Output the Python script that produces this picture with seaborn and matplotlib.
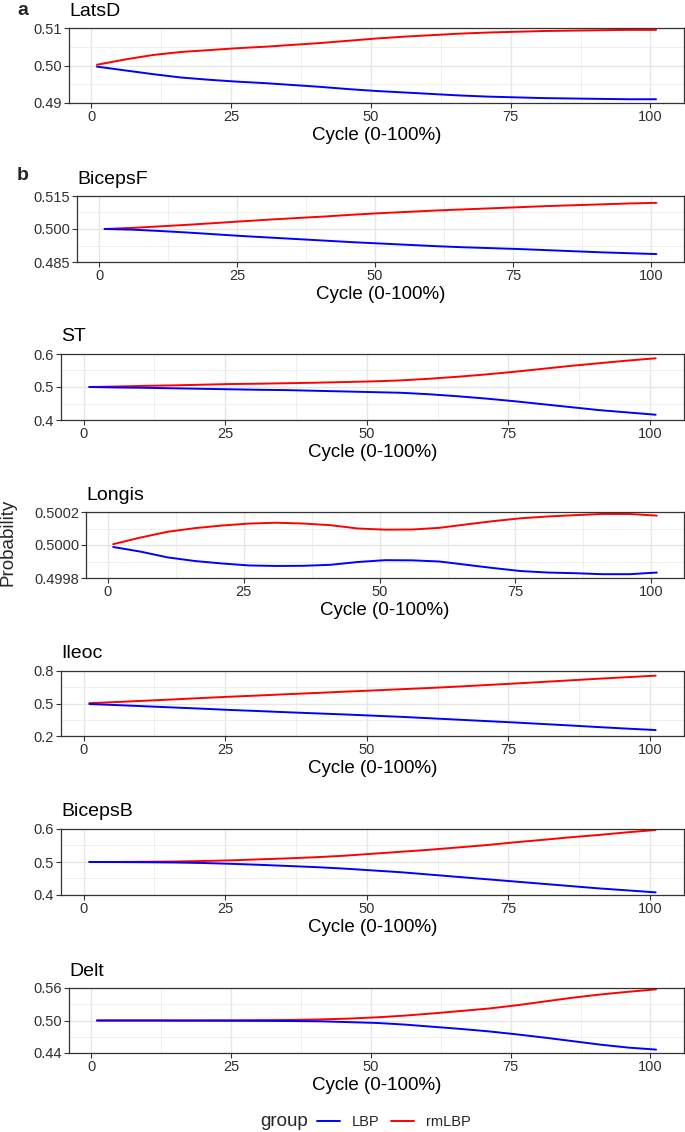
import matplotlib
matplotlib.use("Agg")
import matplotlib.pyplot as plt
import seaborn as sns
import pandas as pd
from matplotlib.lines import Line2D

# ---------------- data ----------------
cycle = [1, 6, 11, 16, 21, 26, 31, 36, 41, 46, 51, 56, 61, 66, 71, 76, 81, 86, 91, 96, 101]
groups = ["LBP", "rmLBP"]
x_ticks = [0, 25, 50, 75, 100]
x_tick_labels = ["0", "25", "50", "75", "100"]

latsd_lbp = [0.4997, 0.4987, 0.4977, 0.4968, 0.4962, 0.4957, 0.4953, 0.4948, 0.4943, 0.4937, 0.4932,
             0.4928, 0.4924, 0.4920, 0.4917, 0.4915, 0.4913, 0.4912, 0.4911, 0.4910, 0.4910]
latsd_rmlbp = [0.5002, 0.5016, 0.5028, 0.5036, 0.5041, 0.5046, 0.5050, 0.5055, 0.5060, 0.5066, 0.5072,
               0.5077, 0.5081, 0.5085, 0.5088, 0.5090, 0.5092, 0.5093, 0.5094, 0.5095, 0.5095]
latsd_yticks = [0.49, 0.50, 0.51]
latsd_ylabels = ["0.49", "0.50", "0.51"]

bicepsf_lbp = [0.5000, 0.4997, 0.4991, 0.4984, 0.4976, 0.4968, 0.4961, 0.4954, 0.4947, 0.4940, 0.4934,
               0.4928, 0.4922, 0.4917, 0.4913, 0.4909, 0.4904, 0.4899, 0.4894, 0.4890, 0.4886]
bicepsf_rmlbp = [0.5000, 0.5005, 0.5012, 0.5019, 0.5027, 0.5035, 0.5043, 0.5050, 0.5057, 0.5065, 0.5072,
                 0.5078, 0.5084, 0.5089, 0.5094, 0.5099, 0.5104, 0.5108, 0.5112, 0.5116, 0.5119]
bicepsf_yticks = [0.485, 0.500, 0.515]
bicepsf_ylabels = ["0.485", "0.500", "0.515"]

st_lbp = [0.500, 0.4985, 0.4975, 0.4960, 0.4945, 0.493, 0.4915, 0.4905, 0.4885, 0.4865, 0.4845,
          0.4825, 0.478, 0.472, 0.465, 0.457, 0.448, 0.439, 0.430, 0.423, 0.416]
st_rmlbp = [0.500, 0.5015, 0.5035, 0.505, 0.507, 0.509, 0.510, 0.5115, 0.513, 0.515, 0.517,
            0.520, 0.525, 0.531, 0.538, 0.546, 0.555, 0.564, 0.572, 0.580, 0.587]
st_yticks = [0.4, 0.5, 0.6]
st_ylabels = ["0.4", "0.5", "0.6"]

longis_lbp = [0.499988, 0.499960, 0.499925, 0.499903, 0.499888, 0.499876, 0.499873, 0.499874, 0.499880,
              0.499897, 0.499908, 0.499907, 0.499900, 0.499880, 0.499860, 0.499842, 0.499833, 0.499829,
              0.499823, 0.499823, 0.499833]
longis_rmlbp = [0.500005, 0.500045, 0.500080, 0.500102, 0.500118, 0.500130, 0.500135, 0.500130, 0.500120,
                0.500100, 0.500093, 0.500094, 0.500104, 0.500125, 0.500145, 0.500162, 0.500173, 0.500181,
                0.500188, 0.500188, 0.500178]
longis_yticks = [0.4998, 0.5000, 0.5002]
longis_ylabels = ["0.4998", "0.5000", "0.5002"]

ileoc_lbp = [0.495, 0.485, 0.474, 0.463, 0.452, 0.440, 0.430, 0.419, 0.409, 0.399, 0.388,
             0.377, 0.364, 0.351, 0.338, 0.325, 0.311, 0.297, 0.282, 0.268, 0.255]
ileoc_rmlbp = [0.503, 0.514, 0.526, 0.538, 0.551, 0.563, 0.574, 0.586, 0.597, 0.609, 0.620,
               0.632, 0.643, 0.656, 0.670, 0.684, 0.699, 0.714, 0.729, 0.743, 0.757]
ileoc_yticks = [0.2, 0.5, 0.8]
ileoc_ylabels = ["0.2", "0.5", "0.8"]

bicepsb_lbp = [0.500, 0.4998, 0.4993, 0.4985, 0.497, 0.4945, 0.4915, 0.488, 0.4845, 0.480, 0.4745,
               0.469, 0.462, 0.455, 0.448, 0.441, 0.434, 0.427, 0.420, 0.414, 0.408]
bicepsb_rmlbp = [0.500, 0.5002, 0.5007, 0.5015, 0.503, 0.505, 0.508, 0.511, 0.5145, 0.519, 0.525,
                 0.531, 0.537, 0.544, 0.551, 0.5595, 0.567, 0.575, 0.582, 0.590, 0.597]
bicepsb_yticks = [0.4, 0.5, 0.6]
bicepsb_ylabels = ["0.4", "0.5", "0.6"]

delt_lbp = [0.500, 0.500, 0.500, 0.4998, 0.4997, 0.4995, 0.4993, 0.499, 0.4985, 0.497, 0.4955,
            0.4925, 0.4885, 0.4845, 0.480, 0.4745, 0.4685, 0.462, 0.4555, 0.450, 0.4463]
delt_rmlbp = [0.500, 0.500, 0.500, 0.500, 0.5002, 0.5004, 0.5007, 0.501, 0.502, 0.5035, 0.5058,
              0.509, 0.513, 0.5175, 0.522, 0.528, 0.535, 0.542, 0.548, 0.553, 0.5575]
delt_yticks = [0.44, 0.50, 0.56]
delt_ylabels = ["0.44", "0.50", "0.56"]

muscles = ["LatsD", "BicepsF", "ST", "Longis", "Ileoc", "BicepsB", "Delt"]
lbp_series = [latsd_lbp, bicepsf_lbp, st_lbp, longis_lbp, ileoc_lbp, bicepsb_lbp, delt_lbp]
rmlbp_series = [latsd_rmlbp, bicepsf_rmlbp, st_rmlbp, longis_rmlbp, ileoc_rmlbp, bicepsb_rmlbp, delt_rmlbp]
yticks_all = [latsd_yticks, bicepsf_yticks, st_yticks, longis_yticks, ileoc_yticks, bicepsb_yticks, delt_yticks]
ylabels_all = [latsd_ylabels, bicepsf_ylabels, st_ylabels, longis_ylabels, ileoc_ylabels, bicepsb_ylabels, delt_ylabels]

# ---------------- style ----------------
sns.set_theme(style="white")
plt.rcParams["font.family"] = ["Liberation Sans", "DejaVu Sans"]
palette = {"LBP": "#0000FF", "rmLBP": "#FF0000"}

W, H = 685, 1132
fig = plt.figure(figsize=(W / 100, H / 100), dpi=100)
fig.patch.set_facecolor("white")

# panel boxes in pixels: (left, top, bottom); right edge common
RIGHT = 684
boxes = [(69, 28, 103), (77, 196, 262), (61, 354, 420), (86, 512, 578),
         (61, 671, 736), (61, 829, 895), (69, 988, 1053)]

for name, lbp, rm, yt, yl, (l, t, b) in zip(muscles, lbp_series, rmlbp_series, yticks_all, ylabels_all, boxes):
    ax = fig.add_axes([l / W, 1 - b / H, (RIGHT - l) / W, (b - t) / H])
    n = len(cycle)
    df = pd.DataFrame({
        "cycle": cycle + cycle,
        "prob": rm + lbp,
        "group": ["rmLBP"] * n + ["LBP"] * n,
    })
    sns.lineplot(data=df, x="cycle", y="prob", hue="group", hue_order=["rmLBP", "LBP"],
                 palette=palette, legend=False, ax=ax, linewidth=1.4)
    ax.set_xlim(-4, 106)
    ax.set_ylim(yt[0], yt[-1])
    ax.set_xticks(x_ticks)
    ax.set_xticklabels(x_tick_labels)
    ax.set_xticks([12.5, 37.5, 62.5, 87.5], minor=True)
    ax.set_yticks(yt)
    ax.set_yticklabels(yl)
    ax.set_yticks([(yt[0] + yt[1]) / 2, (yt[1] + yt[2]) / 2], minor=True)
    ax.grid(which="major", color="#E6E6E6", linewidth=1.0)
    ax.grid(which="minor", color="#EBEBEB", linewidth=0.55)
    ax.set_axisbelow(True)
    ax.tick_params(which="minor", length=0)
    ax.tick_params(which="major", length=3.5, width=0.8, color="#333333",
                   labelsize=10.5, labelcolor="#303030", pad=1.5,
                   bottom=True, left=True)
    for sp in ax.spines.values():
        sp.set_color("#333333")
        sp.set_linewidth(0.9)
    ax.set_xlabel("Cycle (0-100%)", fontsize=13.5, labelpad=2.5, color="black")
    ax.set_ylabel("")
    fig.text(l / W, 1 - (t - 12.5) / H, name, fontsize=14, ha="left", va="baseline", color="black")

# panel tags
fig.text(23 / W, 1 - 15 / H, "a", fontsize=14, fontweight="bold", ha="center", va="baseline")
fig.text(23 / W, 1 - 180 / H, "b", fontsize=14, fontweight="bold", ha="center", va="baseline")

# common y label
fig.text(8.5 / W, 1 - 542 / H, "Probability", rotation=90, fontsize=13.5, ha="center", va="center")

# legend
handles = [Line2D([], [], color=palette[g], linewidth=1.4) for g in groups]
fig.legend(handles, groups, loc="center left", bbox_to_anchor=(317 / W, 1 - 1122 / H),
           ncol=2, frameon=False, fontsize=10.5, handlelength=1.6, handletextpad=0.8,
           columnspacing=0.75, borderpad=0, borderaxespad=0)
fig.text(260 / W, 1 - 1122 / H, "group", fontsize=13.5, ha="left", va="center")

fig.savefig("out.png", dpi=100, facecolor="white")
